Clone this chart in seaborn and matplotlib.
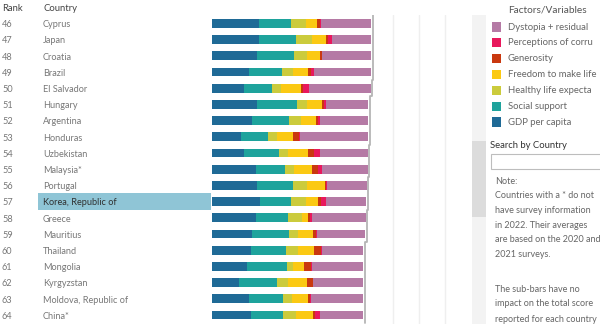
import matplotlib
matplotlib.use("Agg")
import matplotlib.pyplot as plt
from matplotlib.patches import Rectangle
from matplotlib.transforms import blended_transform_factory
import seaborn as sns
import numpy as np

sns.set_style("white")
plt.rcParams['font.family'] = ['Lato', 'DejaVu Sans']

ranks = list(range(46, 65))
countries = ["Cyprus", "Japan", "Croatia", "Brazil", "El Salvador", "Hungary",
             "Argentina", "Honduras", "Uzbekistan", "Malaysia*", "Portugal",
             "Korea, Republic of", "Greece", "Mauritius", "Thailand", "Mongolia",
             "Kyrgyzstan", "Moldova, Republic of", "China*"]
gdp        = [1.81, 1.81, 1.72, 1.44, 1.25, 1.72, 1.56, 1.12, 1.24, 1.69, 1.75, 1.85, 1.70, 1.56, 1.49, 1.36, 1.04, 1.43, 1.49]
social     = [1.23, 1.42, 1.45, 1.25, 1.08, 1.55, 1.43, 1.06, 1.35, 1.13, 1.37, 1.20, 1.25, 1.43, 1.36, 1.52, 1.47, 1.30, 1.26]
health     = [0.58, 0.64, 0.49, 0.43, 0.33, 0.41, 0.43, 0.32, 0.36, 0.36, 0.54, 0.57, 0.51, 0.32, 0.48, 0.23, 0.41, 0.37, 0.48]
freedom    = [0.45, 0.54, 0.51, 0.57, 0.78, 0.55, 0.58, 0.64, 0.74, 0.69, 0.71, 0.49, 0.26, 0.58, 0.62, 0.44, 0.76, 0.59, 0.66]
generosity = [0.10, 0.05, 0.07, 0.12, 0.09, 0.10, 0.10, 0.20, 0.26, 0.24, 0.03, 0.09, 0.05, 0.12, 0.26, 0.26, 0.20, 0.10, 0.09]
corruption = [0.04, 0.17, 0.02, 0.11, 0.22, 0.06, 0.07, 0.06, 0.22, 0.12, 0.04, 0.19, 0.08, 0.05, 0.02, 0.04, 0.03, 0.03, 0.19]
dystopia   = [1.92, 1.50, 1.87, 2.21, 2.37, 1.65, 1.85, 2.62, 1.84, 1.78, 1.53, 1.56, 2.08, 1.84, 1.61, 1.99, 1.91, 2.00, 1.65]

# legend labels as visible in the (cropped) reference panel
factor_names = ["GDP per capita", "Social support", "Healthy life expecta",
                "Freedom to make life", "Generosity",
                "Perceptions of corru", "Dystopia + residual"]
factor_colors = ["#1f6a96", "#1ea39c", "#cbcb3c", "#fbc913", "#c9380f", "#e8185c", "#b57aa5"]
series = [gdp, social, health, freedom, generosity, corruption, dystopia]
highlight = "Korea, Republic of"

W, H = 600, 324
fig = plt.figure(figsize=(W / 100, H / 100), dpi=100)
fig.patch.set_facecolor("white")

def fx(x):
    return x / W

def fy(y):
    return 1 - y / H

ax = fig.add_axes([fx(212), 0, (470 - 212) / W, 1 - 15 / H])
ax.set_facecolor("white")

cum = np.cumsum(np.array(series), axis=0)
for k in range(len(series) - 1, -1, -1):
    sns.barplot(x=cum[k], y=countries, order=countries, orient="h",
                color=factor_colors[k], saturation=1, width=0.54,
                edgecolor="none", linewidth=0, ax=ax)

# whisker line at end of each bar
totals = cum[-1]
wx, wy = [], []
for i, t in enumerate(totals):
    wx += [t + 0.07, t + 0.07]
    wy += [i - 0.5, i + 0.5]
ax.plot(wx, wy, color="#b5b5b5", lw=1.3, zorder=5, solid_joinstyle="round")

ax.set_xlim(0, 9.96)
ax.set_ylim(18.56, -0.52)
ax.set_xticks([7, 8, 9])
ax.grid(axis="x", color="#efefef", lw=1.0)
ax.grid(axis="y", visible=False)
ax.set_axisbelow(True)
ax.tick_params(length=0, labelbottom=False, labelleft=False)
ax.set_xlabel("")
ax.set_ylabel("")
for s in ax.spines.values():
    s.set_visible(False)

trans = blended_transform_factory(fig.transFigure, ax.transData)
hi = countries.index(highlight)
ax.add_patch(Rectangle((fx(38), hi - 0.5), (211 - 38) / W, 1.0,
                       transform=trans, facecolor="#8fc5d6", edgecolor="none",
                       zorder=0.5, clip_on=False))
for i, (r, c) in enumerate(zip(ranks, countries)):
    col = "#2f2f2f" if c == highlight else "#777777"
    ax.text(fx(2), i + 0.08, str(r), transform=trans, ha="left", va="center",
            fontsize=6.6, color="#777777", zorder=6)
    ax.text(fx(43), i + 0.08, c, transform=trans, ha="left", va="center",
            fontsize=6.6, color=col, zorder=6)

fig.text(fx(2), fy(8.5), "Rank", ha="left", va="center", fontsize=6.8, color="#444444")
fig.text(fx(43), fy(8.5), "Country", ha="left", va="center", fontsize=6.8, color="#444444")

# scrollbar
fig.patches.append(Rectangle((fx(472), 0), 14 / W, (H - 15) / H, transform=fig.transFigure,
                             facecolor="#f3f3f3", edgecolor="none"))
fig.patches.append(Rectangle((fx(472), fy(217)), 14 / W, (217 - 141) / H, transform=fig.transFigure,
                             facecolor="#dcdcdc", edgecolor="none"))

# legend
fig.text(fx(508), fy(10), "Factors/Variables", ha="left", va="center", fontsize=7.3, color="#555555")
for j, k in enumerate(range(len(series) - 1, -1, -1)):
    yc = 27 + j * 15.9
    fig.patches.append(Rectangle((fx(492), fy(yc + 4.5)), 9.5 / W, 9.5 / H,
                                 transform=fig.transFigure, facecolor=factor_colors[k], edgecolor="none"))
    fig.text(fx(508), fy(yc), factor_names[k], ha="left", va="center", fontsize=6.8, color="#666666")

fig.text(fx(490), fy(146), "Search by Country", ha="left", va="center", fontsize=6.8, color="#333333")
fig.patches.append(Rectangle((fx(490.5), fy(169)), 115 / W, 15 / H, transform=fig.transFigure,
                             facecolor="white", edgecolor="#bdbdbd", lw=0.8))

note_lines = ["Note:", "Countries with a * do not", "have survey information",
              "in 2022. Their averages", "are based on the 2020 and", "2021 surveys."]
for j, t in enumerate(note_lines):
    fig.text(fx(495), fy(181 + j * 14.7), t, ha="left", va="center", fontsize=6.5, color="#666666")
note2 = ["The sub-bars have no", "impact on the total score", "reported for each country"]
for j, t in enumerate(note2):
    fig.text(fx(495), fy(289 + j * 15), t, ha="left", va="center", fontsize=6.5, color="#666666")

fig.savefig("out.png", dpi=100, facecolor="white")
